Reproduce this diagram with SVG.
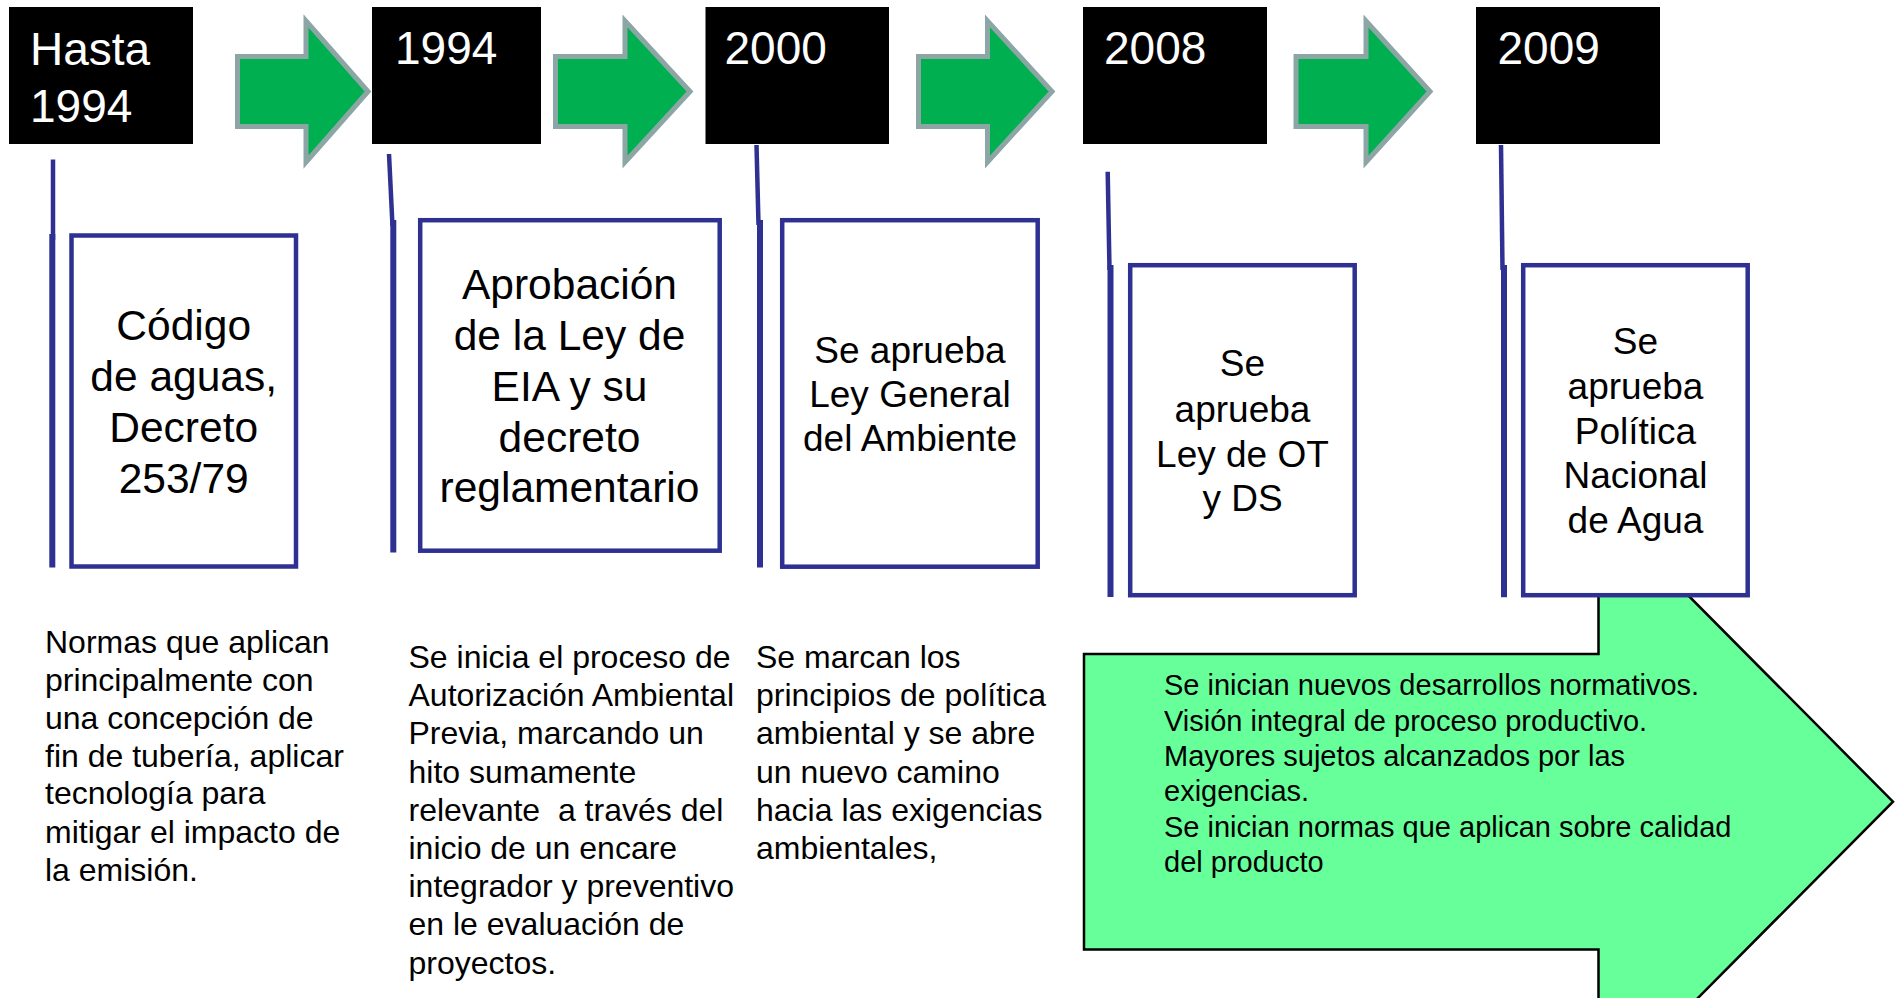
<svg xmlns="http://www.w3.org/2000/svg" width="1896" height="998" viewBox="0 0 1896 998">
<style>
.yr{fill:#000}
.yt{font-family:"Liberation Sans",Arial,sans-serif;font-size:46px;fill:#fff}
.arr{fill:#00b050;stroke:#8ca5a5;stroke-width:5;stroke-linejoin:miter}
.vl{stroke:#2e3192;fill:none}
.bx{fill:#fff;stroke:#2e3192;stroke-width:4.5}
.bt{font-family:"Liberation Sans",Arial,sans-serif;fill:#000;text-anchor:middle}
.big{font-size:42.5px}
.mid{font-size:37px}
.col{font-family:"Liberation Sans",Arial,sans-serif;font-size:32px;fill:#000;white-space:pre}
.at{font-family:"Liberation Sans",Arial,sans-serif;font-size:29px;fill:#000}
</style>
<g id="connectors">
<path class="arr" d="M237.5 56.5H306V21L368 91.5L306 162V126.5H237.5Z"/>
<path class="arr" d="M555.5 56.5H625V21L690 91.5L625 162V126.5H555.5Z"/>
<path class="arr" d="M918.5 56.5H987.5V21L1052 91.5L987.5 162V126.5H918.5Z"/>
<path class="arr" d="M1296 56.5H1366V21L1430 91.5L1366 162V126.5H1296Z"/>
<line class="vl" x1="53" y1="159.5" x2="53" y2="240" stroke-width="4.5"/>
<line class="vl" x1="52.3" y1="234" x2="52.3" y2="567.5" stroke-width="6"/>
<line class="vl" x1="389" y1="154" x2="392.5" y2="226" stroke-width="4.5"/>
<line class="vl" x1="393.3" y1="220" x2="393.3" y2="552.5" stroke-width="6"/>
<line class="vl" x1="756.5" y1="145" x2="758.5" y2="225" stroke-width="4.5"/>
<line class="vl" x1="760" y1="220" x2="760" y2="567.5" stroke-width="6"/>
<line class="vl" x1="1107.7" y1="171.7" x2="1109.5" y2="270" stroke-width="4.5"/>
<line class="vl" x1="1110.5" y1="265" x2="1110.5" y2="597" stroke-width="6"/>
<line class="vl" x1="1501" y1="145" x2="1502.5" y2="270" stroke-width="4.5"/>
<line class="vl" x1="1504" y1="265" x2="1504" y2="597.3" stroke-width="6"/>
</g>
<g id="y1"><rect class="yr" x="9" y="7" width="184" height="137"/><text class="yt" x="30" y="65">Hasta</text><text class="yt" x="30" y="121.5">1994</text></g>
<g id="y2"><rect class="yr" x="372" y="7" width="169" height="137"/><text class="yt" x="395" y="64">1994</text></g>
<g id="y3"><rect class="yr" x="705.5" y="7" width="183.5" height="137"/><text class="yt" x="724.5" y="64">2000</text></g>
<g id="y4"><rect class="yr" x="1083" y="7" width="184" height="137"/><text class="yt" x="1104" y="64">2008</text></g>
<g id="y5"><rect class="yr" x="1476" y="7" width="184" height="137"/><text class="yt" x="1497.5" y="64">2009</text></g>
<g id="bigarrow">
<path d="M1084 654H1598.5V505L1893 801.7L1598.5 1098V949.5H1084Z" fill="#66ff99" stroke="#000" stroke-width="2.5"/>
<text class="at" x="1164" y="695">Se inician nuevos desarrollos normativos.</text>
<text class="at" x="1164" y="730.5">Visión integral de proceso productivo.</text>
<text class="at" x="1164" y="766">Mayores sujetos alcanzados por las</text>
<text class="at" x="1164" y="801">exigencias.</text>
<text class="at" x="1164" y="836.5">Se inician normas que aplican sobre calidad</text>
<text class="at" x="1164" y="871.5">del producto</text>
</g>
<g id="boxA"><rect class="bx" x="71.5" y="235.5" width="224.5" height="331"/>
<text class="bt big" x="183.7" y="340">Código</text><text class="bt big" x="183.7" y="390.7">de aguas,</text><text class="bt big" x="183.7" y="441.7">Decreto</text><text class="bt big" x="183.7" y="492.7">253/79</text></g>
<g id="boxB"><rect class="bx" x="420.2" y="220.2" width="299.5" height="330.5"/>
<text class="bt big" x="569.5" y="299.3">Aprobación</text><text class="bt big" x="569.5" y="350">de la Ley de</text><text class="bt big" x="569.5" y="401">EIA y su</text><text class="bt big" x="569.5" y="451.7">decreto</text><text class="bt big" x="569.5" y="501.7">reglamentario</text></g>
<g id="boxC"><rect class="bx" x="782.2" y="220.2" width="255.5" height="346.5"/>
<text class="bt mid" x="910" y="362.7">Se aprueba</text><text class="bt mid" x="910" y="406.7">Ley General</text><text class="bt mid" x="910" y="450.7">del Ambiente</text></g>
<g id="boxD"><rect class="bx" x="1130.2" y="265.2" width="224.5" height="330"/>
<text class="bt mid" x="1242.5" y="376">Se</text><text class="bt mid" x="1242.5" y="421.7">aprueba</text><text class="bt mid" x="1242.5" y="466.7">Ley de OT</text><text class="bt mid" x="1242.5" y="510.7">y DS</text></g>
<g id="boxE"><rect class="bx" x="1523.2" y="265.2" width="224.5" height="330"/>
<text class="bt mid" x="1635.5" y="354.3">Se</text><text class="bt mid" x="1635.5" y="399">aprueba</text><text class="bt mid" x="1635.5" y="444">Política</text><text class="bt mid" x="1635.5" y="488.3">Nacional</text><text class="bt mid" x="1635.5" y="533.3">de Agua</text></g>
<g id="note1">
<text class="col" x="45" y="653.3">Normas que aplican</text>
<text class="col" x="45" y="690.8">principalmente con</text>
<text class="col" x="45" y="728.5">una concepción de</text>
<text class="col" x="45" y="766.5">fin de tubería, aplicar</text>
<text class="col" x="45" y="804.3">tecnología para</text>
<text class="col" x="45" y="842.5">mitigar el impacto de</text>
<text class="col" x="45" y="881">la emisión.</text>
</g>
<g id="note2">
<text class="col" x="408.5" y="668.3">Se inicia el proceso de</text>
<text class="col" x="408.5" y="706.3">Autorización Ambiental</text>
<text class="col" x="408.5" y="744.3">Previa, marcando un</text>
<text class="col" x="408.5" y="782.5">hito sumamente</text>
<text class="col" x="408.5" y="820.7">relevante  a través del</text>
<text class="col" x="408.5" y="859">inicio de un encare</text>
<text class="col" x="408.5" y="897.2">integrador y preventivo</text>
<text class="col" x="408.5" y="935.3">en le evaluación de</text>
<text class="col" x="408.5" y="973.5">proyectos.</text>
</g>
<g id="note3">
<text class="col" x="756" y="668.3">Se marcan los</text>
<text class="col" x="756" y="706.3">principios de política</text>
<text class="col" x="756" y="744.3">ambiental y se abre</text>
<text class="col" x="756" y="782.5">un nuevo camino</text>
<text class="col" x="756" y="820.7">hacia las exigencias</text>
<text class="col" x="756" y="859">ambientales,</text>
</g>
</svg>
